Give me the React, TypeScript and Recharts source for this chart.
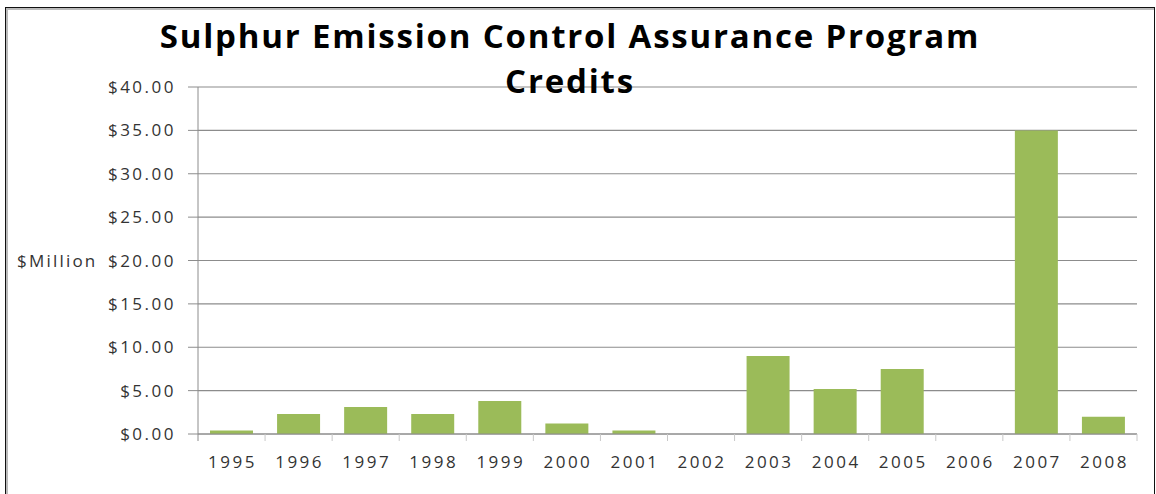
import React from "react";
import { BarChart, Bar, XAxis, YAxis, CartesianGrid } from "recharts";

// Credits by year, $ million
const years = ["1995", "1996", "1997", "1998", "1999", "2000", "2001", "2002", "2003", "2004", "2005", "2006", "2007", "2008"];
const credits = [0.4, 2.3, 3.1, 2.3, 3.8, 1.2, 0.4, 0, 9.0, 5.2, 7.5, 0, 35.0, 2.0];
const yTicks = [0, 5, 10, 15, 20, 25, 30, 35, 40];

const data = years.map((year, i) => ({ year, credits: credits[i] }));

const FONT = "'Open Sans', 'Noto Sans', sans-serif";
const AXIS_GRAY = "#8c8c8c";

// year label plus the boundary tick marks Excel draws between categories
const YearTick = (props: any) => {
  const { x, y, payload, index } = props;
  const half = payload.offset || 0;
  return (
    <g>
      {index === 0 && <line x1={x - half} x2={x - half} y1={y - 8} y2={y - 1} stroke={AXIS_GRAY} />}
      <line x1={x + half} x2={x + half} y1={y - 8} y2={y - 1} stroke="#c8c8c8" />
      <text x={x + 1} y={y + 26} textAnchor="middle" fill="#333" fontSize={17} letterSpacing={2.5} fontFamily={FONT}>
        {payload.value}
      </text>
    </g>
  );
};

export default function App() {
  return (
    <div style={{ position: "absolute", left: 0, top: 0, width: 1156, height: 494, background: "#fff", overflow: "hidden" }}>
      <div
        style={{
          position: "absolute",
          left: 5,
          top: 7,
          width: 1150,
          height: 490,
          border: "1px solid #111",
          boxShadow: "inset 2px 2px 0 #bbb",
          boxSizing: "border-box",
        }}
      />
      <div
        style={{
          position: "absolute",
          left: 0,
          top: 13,
          width: 1140,
          textAlign: "center",
          fontFamily: FONT,
          fontWeight: 700,
          fontSize: 33,
          letterSpacing: 1.8,
          lineHeight: "45px",
          color: "#000",
          zIndex: 2,
        }}
      >
        Sulphur Emission Control Assurance Program
        <br />
        Credits
      </div>
      <BarChart
        width={1156}
        height={494}
        data={data}
        margin={{ top: 87, right: 19, bottom: 20, left: 10 }}
        barSize={43}
        style={{ position: "absolute", left: 0, top: 0 }}
      >
        <CartesianGrid vertical={false} stroke={AXIS_GRAY} strokeWidth={1.2} />
        <XAxis
          dataKey="year"
          height={40}
          axisLine={{ stroke: AXIS_GRAY }}
          tickLine={false}
          tick={<YearTick />}
          interval={0}
        />
        <YAxis
          width={188}
          domain={[0, 40]}
          ticks={yTicks}
          interval={0}
          axisLine={{ stroke: AXIS_GRAY }}
          tickLine={{ stroke: AXIS_GRAY }}
          tickSize={10}
          tickMargin={12}
          tickFormatter={(v: number) => "$" + v.toFixed(2)}
          tick={{ fill: "#333", fontSize: 17, fontFamily: FONT, letterSpacing: 2.5 }}
          label={{ value: "$Million", position: "insideLeft", offset: 7, fill: "#333", fontSize: 17, fontFamily: FONT, letterSpacing: 2.2 }}
        />
        <Bar dataKey="credits" fill="#9bbb59" isAnimationActive={false} />
      </BarChart>
    </div>
  );
}
